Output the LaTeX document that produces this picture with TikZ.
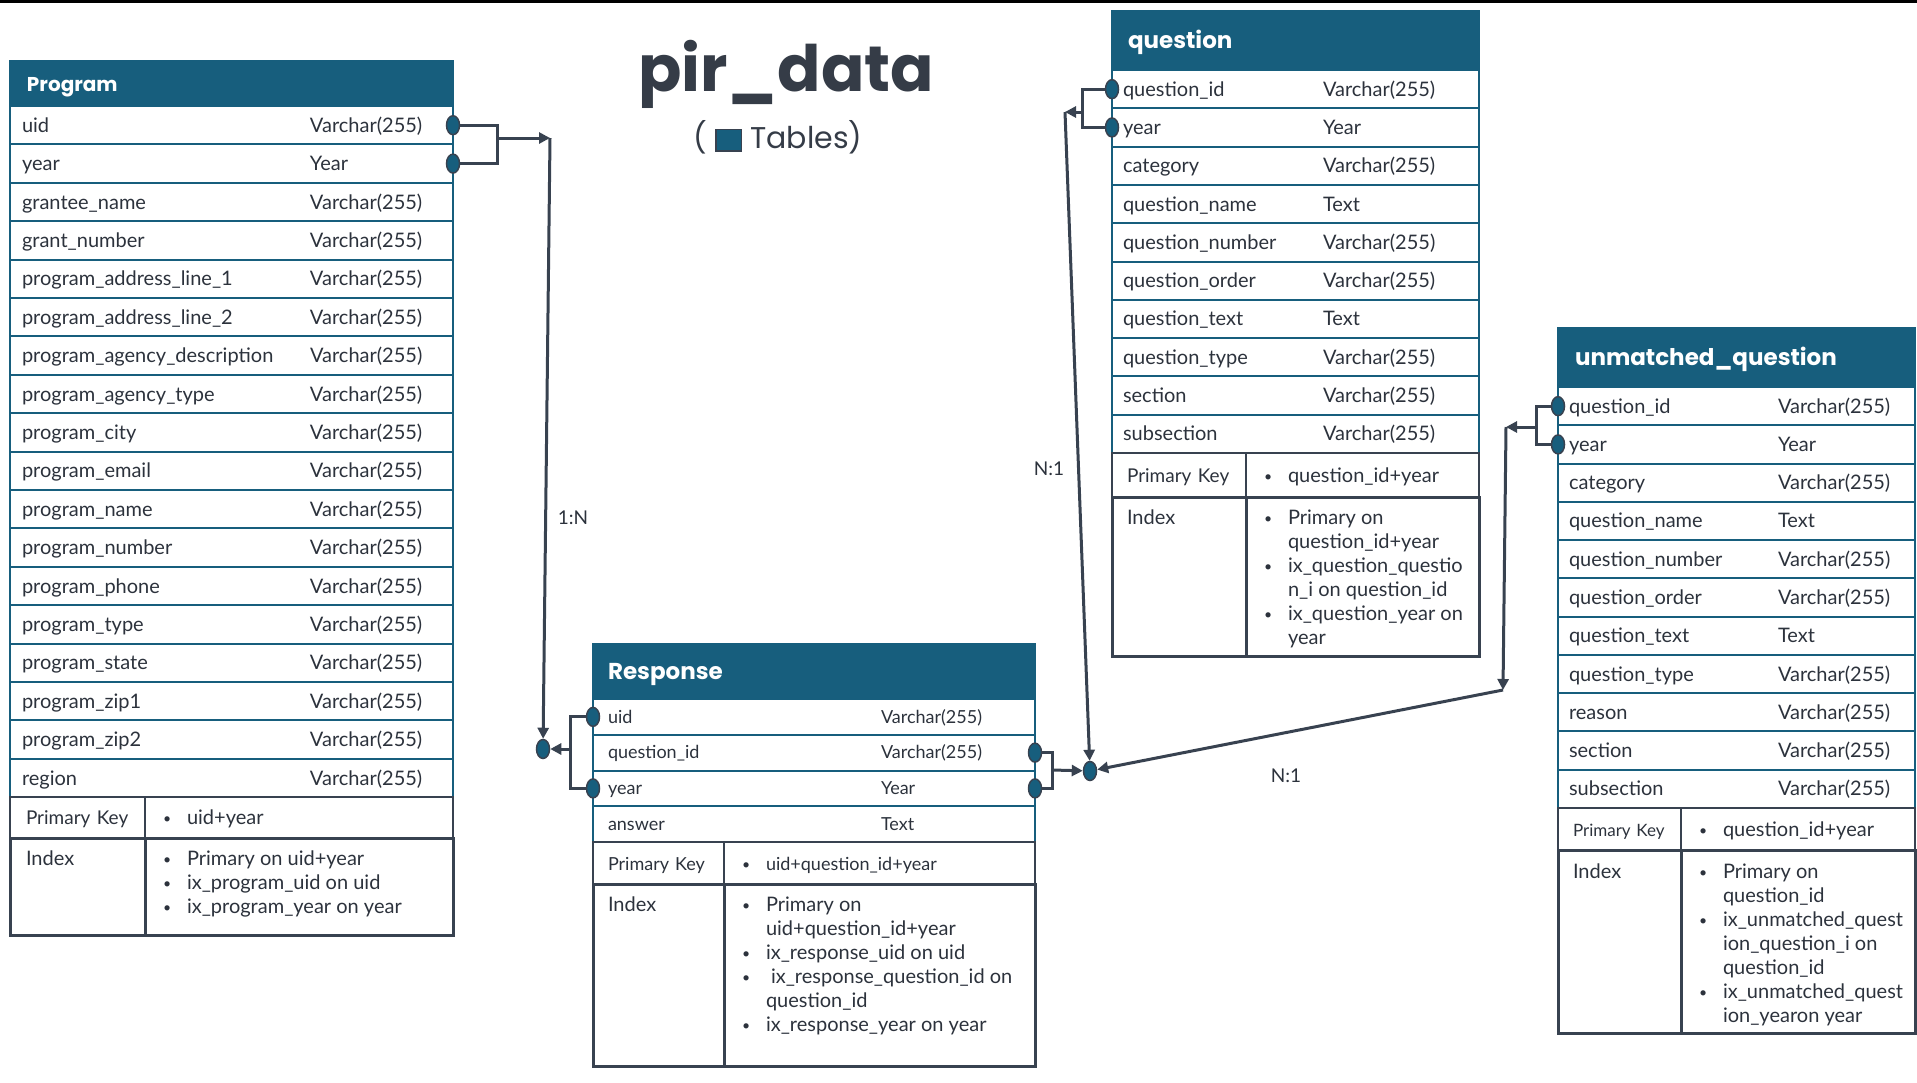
\documentclass[tikz,border=0pt]{standalone}
\usepackage{fontspec}
\setmainfont{Lato}
\newfontfamily\popfont{Poppins}
\usepackage{tikz}
\usetikzlibrary{arrows.meta,positioning,shapes.geometric}

\definecolor{tealc}{RGB}{23,94,125}
\definecolor{darkc}{RGB}{56,66,80}
\definecolor{textc}{RGB}{44,50,60}
\definecolor{titlec}{RGB}{53,60,71}

\setlength{\fboxsep}{0pt}
\setlength{\fboxrule}{1.5pt}
\newlength{\colw}
\newcommand{\fieldrow}[2]{\makebox[\colw][l]{#1}#2}
\newcommand{\topbox}[3]{\parbox[c][#2][t]{#1}{#3}}
\newcommand{\bul}[1]{\mbox{\makebox[24pt][l]{\raisebox{1pt}{\fontsize{14}{14}\selectfont\textbullet}}#1}}
\newcommand{\cont}[1]{\mbox{\hspace*{24pt}#1}}

\tikzset{
  conn/.style={draw=darkc, line width=3pt, >={Triangle[length=11pt,width=11pt]}},
  key/.style={ellipse, draw=darkc, fill=tealc, line width=1.5pt, minimum width=13pt, minimum height=19pt, inner sep=0pt},
  lbl/.style={text=textc, font=\fontsize{19}{22}\selectfont},
  headbox/.style={rectangle, fill=tealc, draw=tealc, line width=2pt, text=white, outer sep=0pt, inner ysep=0pt, align=left, text height=17pt, text depth=1pt, font=\popfont\bfseries\fontsize{23}{26}\selectfont},
  field/.style={rectangle, draw=tealc, line width=2pt, outer sep=0pt, inner ysep=0pt, align=left, text=textc, text height=15pt, text depth=1pt, font=\fontsize{20}{24}\selectfont},
  cell/.style={rectangle, draw=darkc, line width=2pt, outer sep=0pt, inner ysep=0pt, align=left, text=textc, text height=15pt, text depth=1pt, font=\fontsize{20}{24}\selectfont},
  ixcell/.style={rectangle, draw=darkc, line width=3pt, outer sep=0pt, inner ysep=13pt, text=textc, font=\fontsize{20}{24}\selectfont},
  proghead/.style={headbox, text width=409pt, inner xsep=17pt, minimum height=45pt, font=\popfont\bfseries\fontsize{20}{24}\selectfont},
  progrow/.style={field, text width=419pt, inner xsep=12pt, minimum height=38.4pt, execute at begin node={\setlength{\colw}{288pt}}},
  questhead/.style={headbox, text width=335pt, inner xsep=16pt, minimum height=59pt},
  questrow/.style={field, text width=345pt, inner xsep=11pt, minimum height=38.3pt, execute at begin node={\setlength{\colw}{200pt}}},
  resphead/.style={headbox, text width=412pt, inner xsep=15pt, minimum height=55pt},
  resprow/.style={field, text width=412pt, inner xsep=15pt, minimum height=35.75pt, text height=13.5pt, font=\fontsize{18}{22}\selectfont, execute at begin node={\setlength{\colw}{273pt}}},
  unmhead/.style={headbox, text width=323pt, inner xsep=17pt, minimum height=59pt},
  unmrow/.style={field, text width=335pt, inner xsep=11pt, minimum height=38.27pt, execute at begin node={\setlength{\colw}{209pt}}},
}

\begin{document}
\begin{tikzpicture}[x=1pt, y=-1pt]
  \useasboundingbox (0,0) rectangle (1917,1082);
  \fill[black] (0,-1) rectangle (1917,3);

  % Title
  \node[font=\popfont\bfseries\fontsize{64}{74}\selectfont, text=titlec, anchor=base] (title) at (786,91) {pir\_data};
  \node[font=\popfont\fontsize{30}{36}\selectfont, text=titlec, anchor=base] (legend) at (778,148) {( \raisebox{-2pt}{\fcolorbox{darkc}{tealc}{\rule{0pt}{20pt}\rule{24pt}{0pt}}} Tables)};

  % Program table
  \node[proghead, anchor=north west] (phead) at (10,61) {Program};
  \node[progrow, below=0pt of phead] (p1) {\fieldrow{uid}{Varchar(255)}};
  \node[progrow, below=0pt of p1] (p2) {\fieldrow{year}{Year}};
  \node[progrow, below=0pt of p2] (p3) {\fieldrow{grantee\_name}{Varchar(255)}};
  \node[progrow, below=0pt of p3] (p4) {\fieldrow{grant\_number}{Varchar(255)}};
  \node[progrow, below=0pt of p4] (p5) {\fieldrow{program\_address\_line\_1}{Varchar(255)}};
  \node[progrow, below=0pt of p5] (p6) {\fieldrow{program\_address\_line\_2}{Varchar(255)}};
  \node[progrow, below=0pt of p6] (p7) {\fieldrow{program\_agency\_description}{Varchar(255)}};
  \node[progrow, below=0pt of p7] (p8) {\fieldrow{program\_agency\_type}{Varchar(255)}};
  \node[progrow, below=0pt of p8] (p9) {\fieldrow{program\_city}{Varchar(255)}};
  \node[progrow, below=0pt of p9] (p10) {\fieldrow{program\_email}{Varchar(255)}};
  \node[progrow, below=0pt of p10] (p11) {\fieldrow{program\_name}{Varchar(255)}};
  \node[progrow, below=0pt of p11] (p12) {\fieldrow{program\_number}{Varchar(255)}};
  \node[progrow, below=0pt of p12] (p13) {\fieldrow{program\_phone}{Varchar(255)}};
  \node[progrow, below=0pt of p13] (p14) {\fieldrow{program\_type}{Varchar(255)}};
  \node[progrow, below=0pt of p14] (p15) {\fieldrow{program\_state}{Varchar(255)}};
  \node[progrow, below=0pt of p15] (p16) {\fieldrow{program\_zip1}{Varchar(255)}};
  \node[progrow, below=0pt of p16] (p17) {\fieldrow{program\_zip2}{Varchar(255)}};
  \node[progrow, below=0pt of p17] (p18) {\fieldrow{region}{Varchar(255)}};
  \node[cell, anchor=north west, text width=103pt, inner xsep=16pt, minimum height=41pt, font=\fontsize{19}{22}\selectfont] (ppk) at (p18.south west) {\mbox{Primary Key}};
  \node[cell, right=0pt of ppk, text width=272pt, inner xsep=18pt, minimum height=41pt] (ppkv) {\bul{uid+year}};
  \node[ixcell, anchor=north west, inner xsep=16pt] (pix) at (ppk.south west) {\topbox{103pt}{71pt}{Index}};
  \node[ixcell, right=0pt of pix, inner xsep=18pt] (pixv) {\topbox{272pt}{71pt}{\bul{Primary on uid+year}\\ \bul{ix\_program\_uid on uid}\\ \bul{ix\_program\_year on year}}};

  % question table
  \node[questhead, anchor=north west] (qhead) at (1112,11) {question};
  \node[questrow, below=0pt of qhead] (q1) {\fieldrow{question\_id}{Varchar(255)}};
  \node[questrow, below=0pt of q1] (q2) {\fieldrow{year}{Year}};
  \node[questrow, below=0pt of q2] (q3) {\fieldrow{category}{Varchar(255)}};
  \node[questrow, below=0pt of q3] (q4) {\fieldrow{question\_name}{Text}};
  \node[questrow, below=0pt of q4] (q5) {\fieldrow{question\_number}{Varchar(255)}};
  \node[questrow, below=0pt of q5] (q6) {\fieldrow{question\_order}{Varchar(255)}};
  \node[questrow, below=0pt of q6] (q7) {\fieldrow{question\_text}{Text}};
  \node[questrow, below=0pt of q7] (q8) {\fieldrow{question\_type}{Varchar(255)}};
  \node[questrow, below=0pt of q8] (q9) {\fieldrow{section}{Varchar(255)}};
  \node[questrow, below=0pt of q9] (q10) {\fieldrow{subsection}{Varchar(255)}};
  \node[cell, anchor=north west, text width=104pt, inner xsep=15pt, minimum height=44pt, font=\fontsize{19}{22}\selectfont] (qpk) at (q10.south west) {\mbox{Primary Key}};
  \node[cell, right=0pt of qpk, text width=197pt, inner xsep=18pt, minimum height=44pt] (qpkv) {\bul{question\_id+year}};
  \node[ixcell, anchor=north west, inner xsep=15pt] (qix) at (qpk.south west) {\topbox{104pt}{133pt}{Index}};
  \node[ixcell, right=0pt of qix, inner xsep=18pt] (qixv) {\topbox{197pt}{133pt}{\bul{Primary on}\\ \cont{question\_id+year}\\ \bul{ix\_question\_questio}\\ \cont{n\_i on question\_id}\\ \bul{ix\_question\_year on}\\ \cont{year}}};

  % Response table
  \node[resphead, anchor=north west] (rhead) at (593,644) {Response};
  \node[resprow, below=0pt of rhead] (r1) {\fieldrow{uid}{Varchar(255)}};
  \node[resprow, below=0pt of r1] (r2) {\fieldrow{question\_id}{Varchar(255)}};
  \node[resprow, below=0pt of r2] (r3) {\fieldrow{year}{Year}};
  \node[resprow, below=0pt of r3] (r4) {\fieldrow{answer}{Text}};
  \node[cell, anchor=north west, text width=101pt, inner xsep=15pt, minimum height=42pt, font=\fontsize{18}{22}\selectfont] (rpk) at (r4.south west) {\mbox{Primary Key}};
  \node[cell, right=0pt of rpk, text width=275pt, inner xsep=18pt, minimum height=42pt, font=\fontsize{18}{22}\selectfont] (rpkv) {\bul{uid+question\_id+year}};
  \node[ixcell, anchor=north west, inner xsep=15pt] (rix) at (rpk.south west) {\topbox{101pt}{156pt}{Index}};
  \node[ixcell, right=0pt of rix, inner xsep=18pt] (rixv) {\topbox{275pt}{156pt}{\bul{Primary on}\\ \cont{uid+question\_id+year}\\ \bul{ix\_response\_uid on uid}\\ \bul{\hspace{5pt}ix\_response\_question\_id on}\\ \cont{question\_id}\\ \bul{ix\_response\_year on year}}};

  % unmatched_question table
  \node[unmhead, anchor=north west] (uhead) at (1558,328) {unmatched\_question};
  \node[unmrow, below=0pt of uhead] (u1) {\fieldrow{question\_id}{Varchar(255)}};
  \node[unmrow, below=0pt of u1] (u2) {\fieldrow{year}{Year}};
  \node[unmrow, below=0pt of u2] (u3) {\fieldrow{category}{Varchar(255)}};
  \node[unmrow, below=0pt of u3] (u4) {\fieldrow{question\_name}{Text}};
  \node[unmrow, below=0pt of u4] (u5) {\fieldrow{question\_number}{Varchar(255)}};
  \node[unmrow, below=0pt of u5] (u6) {\fieldrow{question\_order}{Varchar(255)}};
  \node[unmrow, below=0pt of u6] (u7) {\fieldrow{question\_text}{Text}};
  \node[unmrow, below=0pt of u7] (u8) {\fieldrow{question\_type}{Varchar(255)}};
  \node[unmrow, below=0pt of u8] (u9) {\fieldrow{reason}{Varchar(255)}};
  \node[unmrow, below=0pt of u9] (u10) {\fieldrow{section}{Varchar(255)}};
  \node[unmrow, below=0pt of u10] (u11) {\fieldrow{subsection}{Varchar(255)}};
  \node[cell, anchor=north west, text width=93pt, inner xsep=15pt, minimum height=43pt, font=\fontsize{17}{20}\selectfont] (upk) at (u11.south west) {\mbox{Primary Key}};
  \node[cell, right=0pt of upk, text width=198pt, inner xsep=18pt, minimum height=43pt] (upkv) {\bul{question\_id+year}};
  \node[ixcell, anchor=north west, inner xsep=15pt] (uix) at (upk.south west) {\topbox{93pt}{157pt}{Index}};
  \node[ixcell, right=0pt of uix, inner xsep=18pt] (uixv) {\topbox{198pt}{157pt}{\bul{Primary on}\\ \cont{question\_id}\\ \bul{ix\_unmatched\_quest}\\ \cont{ion\_question\_i on}\\ \cont{question\_id}\\ \bul{ix\_unmatched\_quest}\\ \cont{ion\_yearon year}}};

  % Key markers
  \node[key] (pku) at (p1.east) {};
  \node[key] (pky) at (p2.east) {};
  \node[key] (rku) at (r1.west) {};
  \node[key] (rky) at (r3.west) {};
  \node[key] (rkq) at (r2.east) {};
  \node[key] (rkY) at (r3.east) {};
  \node[key] (qki) at (q1.west) {};
  \node[key] (qky) at (q2.west) {};
  \node[key] (uki) at (u1.west) {};
  \node[key] (uky) at (u2.west) {};
  \node[key] (jr) at (543,749) {};
  \node[key] (jq) at (1090,771) {};

  % Bends
  \coordinate (pbend) at (497,138);
  \coordinate (parr) at (550,138);
  \coordinate (rbend) at (570,749);
  \coordinate (rbend2) at (1052,770);
  \coordinate (qbend) at (1082,112);
  \coordinate (qarr) at (1065,112);
  \coordinate (ubend) at (1536,427);
  \coordinate (uarr) at (1506,427);
  \coordinate (udrop) at (1503,690);

  % Connect the nodes
  \draw[conn] (pku) -| (pbend) |- (pky); %
  \draw[conn, ->] (pbend) -- (parr); %
  \draw[conn, ->] (parr) -- (jr); %
  \draw[conn] (rku) -| (rbend) |- (rky); %
  \draw[conn, ->] (rbend) -- (jr); %
  \draw[conn] (rkq) -| (rbend2) |- (rkY); %
  \draw[conn, ->] (rbend2) -- (jq); %
  \draw[conn] (qki) -| (qbend) |- (qky); %
  \draw[conn, ->] (qbend) -- (qarr); %
  \draw[conn, ->] (qarr) -- (jq); %
  \draw[conn] (uki) -| (ubend) |- (uky); %
  \draw[conn, ->] (ubend) -- (uarr); %
  \draw[conn, ->] (uarr) -- (udrop); %
  \draw[conn, ->] (udrop) -- (jq); %

  % Cardinalities
  \node[lbl] (card1) at (573,518) {1:N};
  \node[lbl] (card2) at (1049,469) {N:1};
  \node[lbl] (card3) at (1286,776) {N:1};
\end{tikzpicture}
\end{document}
